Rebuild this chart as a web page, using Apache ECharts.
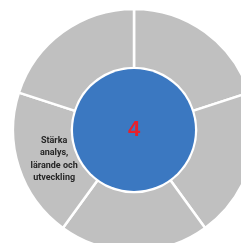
<!DOCTYPE html>
<html>
<head>
<meta charset="utf-8">
<script src="https://cdn.jsdelivr.net/npm/echarts@6/dist/echarts.min.js"></script>
<style>
  html, body { margin: 0; padding: 0; background: #fff; }
  #main { width: 241px; height: 243px; }
</style>
</head>
<body>
<div id="main"></div>
<script>
var chartDom = document.getElementById('main');
var myChart = echarts.init(chartDom);
var option;

// ring segments, clockwise from the top
var segmentNames = ['', '', '', 'Stärka\nanalys,\nlärande och\nutveckling', ''];
var segmentValues = [1, 1, 1, 1, 1];
// centre disc
var centreLabel = ['4'];
var centreValue = [1];

var ringData = [];
for (var i = 0; i < segmentNames.length; i++) {
  ringData.push({ name: segmentNames[i], value: segmentValues[i] });
}

option = {
  backgroundColor: '#fff',
  animation: false,
  series: [
    {
      type: 'pie',
      center: [134, 130],
      radius: [62, 121],
      startAngle: 90,
      silent: true,
      itemStyle: {
        color: '#c0c0c0',
        borderColor: '#fff',
        borderWidth: 2.5
      },
      label: {
        show: true,
        position: 'inside',
        formatter: function (p) {
          if (!p.name) return '';
          // wrap every line so the padding nudges the block right
          return p.name.split('\n').map(function (s) { return '{a|' + s + '}'; }).join('\n');
        },
        rich: {
          a: {
            color: '#262626',
            fontFamily: 'Roboto',
            fontWeight: 'bold',
            fontSize: 9,
            lineHeight: 12.5,
            padding: [0, 0, 0, 20]
          }
        },
        align: 'center'
      },
      labelLine: { show: false },
      data: ringData
    },
    {
      type: 'pie',
      center: [134, 130],
      radius: [0, 61],
      silent: true,
      itemStyle: {
        color: '#3b78c1'
      },
      label: {
        show: true,
        position: 'center',
        formatter: '{b}',
        color: '#e8202a',
        fontFamily: 'Liberation Sans',
        fontWeight: 'bold',
        fontSize: 22
      },
      labelLine: { show: false },
      data: [{ name: centreLabel[0], value: centreValue[0] }]
    }
  ]
};

option && myChart.setOption(option);
</script>
</body>
</html>
